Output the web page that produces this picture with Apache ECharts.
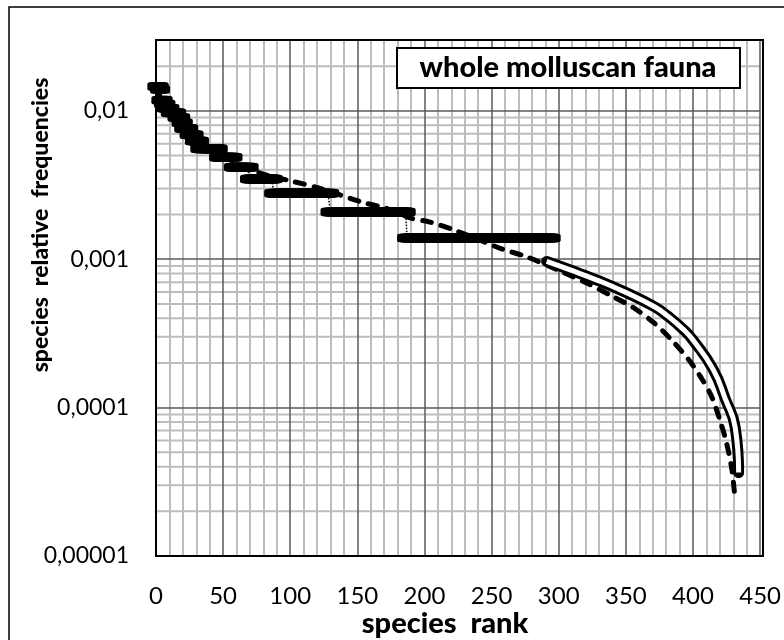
<!DOCTYPE html>
<html><head><meta charset="utf-8">
<script src="https://cdn.jsdelivr.net/npm/echarts@6/dist/echarts.min.js"></script>
<style>html,body{margin:0;padding:0;background:#fff}#c{width:784px;height:640px}</style>
</head><body><div id="c"></div>
<script>
// ---- data ----
const xTickValues = [0, 50, 100, 150, 200, 250, 300, 350, 400, 450];
const yTickValues = [0.00001, 0.0001, 0.001, 0.01];
const yTickLabels = ['0,00001', '0,0001', '0,001', '0,01'];

// observed relative frequencies: tied ranks grouped in plateaus
const plateauValues    = [0.0146, 0.0139, 0.0118, 0.0111, 0.0104, 0.0097, 0.0090, 0.0083, 0.0076, 0.0069, 0.00625, 0.00555, 0.00486, 0.00417, 0.00347, 0.00278, 0.00208, 0.00139];
const plateauFirstRank = [1, 3, 4, 6, 8, 11, 16, 19, 21, 25, 29, 33, 47, 58, 70, 88, 130, 187];
const plateauLastRank  = [2, 3, 5, 7, 10, 15, 18, 20, 24, 28, 32, 46, 57, 69, 87, 129, 186, 294];

// fitted model (dashed curve)
const modelRanks  = [1, 10, 20, 35, 50, 65, 85, 101, 121, 153, 171, 190, 204, 224, 258, 276, 300, 321, 341, 356, 371, 384, 397, 407, 414, 420, 425, 429, 431];
const modelValues = [0.0135, 0.0098, 0.0078, 0.0061, 0.0050, 0.0042, 0.00363, 0.00336, 0.00302, 0.00243, 0.00221, 0.00189, 0.00178, 0.00155, 0.00117, 0.00104, 0.00084, 0.00069, 0.000556, 0.000469, 0.000372, 0.000286, 0.000209, 0.000154, 0.000118, 0.0000826, 0.0000578, 0.000038, 0.000026];

// estimated tail (double-line curve)
const tailRanks  = [291, 308, 329, 348, 371, 381, 393, 400, 415, 424, 431.5, 434];
const tailValues = [0.000966, 0.00085, 0.00072, 0.000608, 0.00048, 0.000415, 0.000335, 0.000285, 0.000181, 0.000115, 0.0000731, 0.0000365];

const minorMultipliers = [2, 3, 4, 5, 6, 7, 8, 9];
const gridDecades = [0.00001, 0.0001, 0.001, 0.01];

// ---- build ----
const observed = [];
plateauValues.forEach((v, i) => {
  for (let r = plateauFirstRank[i]; r <= plateauLastRank[i]; r++) observed.push([r, v]);
});
const model = modelRanks.map((r, i) => [r, modelValues[i]]);
const tail = tailRanks.map((r, i) => [r, tailValues[i]]);
const minorGridSeries = [];
gridDecades.forEach(d => minorMultipliers.forEach(m => {
  const v = m * d;
  if (v <= 0.0300001) minorGridSeries.push({
    type: 'line', data: [[0, v], [450, v]], symbol: 'none', silent: true, z: 1,
    lineStyle: { color: '#bdbdbd', width: 2 }
  });
}));

const FONT = 'Lato';
const chart = echarts.init(document.getElementById('c'), null, { renderer: 'canvas' });
chart.setOption({
  animation: false,
  backgroundColor: '#fff',
  grid: { left: 156, right: 21, top: 40, bottom: 84, show: false },
  xAxis: {
    type: 'value', min: 0, max: 450, interval: 50, z: 2,
    axisLine: { show: false }, axisTick: { show: false },
    axisLabel: { color: '#000', fontFamily: FONT, fontSize: 24, margin: 28,
      formatter: v => (xTickValues.indexOf(v) >= 0 ? String(v) : '') },
    splitLine: { show: true, lineStyle: { color: '#5a5a5a', width: 1.5 } },
    minorTick: { show: false, splitNumber: 5 },
    minorSplitLine: { show: true, lineStyle: { color: '#bdbdbd', width: 2 } }
  },
  yAxis: {
    type: 'log', logBase: 10, min: 0.00001, max: 0.03, z: 3,
    axisLine: { show: false }, axisTick: { show: false },
    axisLabel: { color: '#000', fontFamily: FONT, fontSize: 23, margin: 27,
      formatter: v => {
        for (let i = 0; i < yTickValues.length; i++) {
          if (Math.abs(Math.log10(v) - Math.log10(yTickValues[i])) < 1e-6) return yTickLabels[i];
        }
        return '';
      } },
    splitLine: { show: true, lineStyle: { color: '#5a5a5a', width: 1.5 } }
  },
  series: minorGridSeries.concat([
    { type: 'line', name: 'model', data: model, smooth: 0.3, symbol: 'none', z: 4,
      lineStyle: { color: '#000', width: 5, type: [9, 10], cap: 'round' } },
    { type: 'line', name: 'observed', data: observed, symbol: 'roundRect', symbolSize: [20, 9],
      showSymbol: true, showAllSymbol: true, clip: false, z: 5,
      itemStyle: { color: '#000' }, lineStyle: { color: '#000', width: 1.5, type: 'dotted' } },
    { type: 'line', name: 'tail', data: tail, smooth: 0.5, symbol: 'none', z: 6,
      lineStyle: { color: '#000', width: 11, cap: 'round' } },
    { type: 'line', name: 'tailInner', data: tail, smooth: 0.5, symbol: 'none', z: 7,
      lineStyle: { color: '#fff', width: 5, cap: 'butt' } }
  ]),
  graphic: [
    { type: 'rect', z: 50, silent: true, shape: { x: 156, y: 40, width: 607, height: 516 },
      style: { fill: 'none', stroke: '#000', lineWidth: 2 } },
    { type: 'rect', z: 50, silent: true, shape: { x: 9, y: 7, width: 820, height: 700 },
      style: { fill: 'none', stroke: '#000', lineWidth: 1.5 } },
    { type: 'rect', z: 60, silent: true, shape: { x: 397, y: 48, width: 343, height: 40 },
      style: { fill: '#fff', stroke: '#000', lineWidth: 2 } },
    { type: 'text', z: 61, silent: true, x: 568, y: 68,
      style: { text: 'whole molluscan fauna', fontFamily: FONT, fontWeight: 900, fontSize: 29,
        fill: '#000', align: 'center', verticalAlign: 'middle' } },
    { type: 'text', z: 61, silent: true, x: 445, y: 624,
      style: { text: 'species  rank', fontFamily: FONT, fontWeight: 900, fontSize: 29,
        fill: '#000', align: 'center', verticalAlign: 'middle' } },
    { type: 'text', z: 61, silent: true, x: 41, y: 225, rotation: Math.PI / 2,
      style: { text: 'species  relative  frequencies', fontFamily: FONT, fontWeight: 900, fontSize: 23,
        fill: '#000', align: 'center', verticalAlign: 'middle' } }
  ]
});
</script>
</body></html>
